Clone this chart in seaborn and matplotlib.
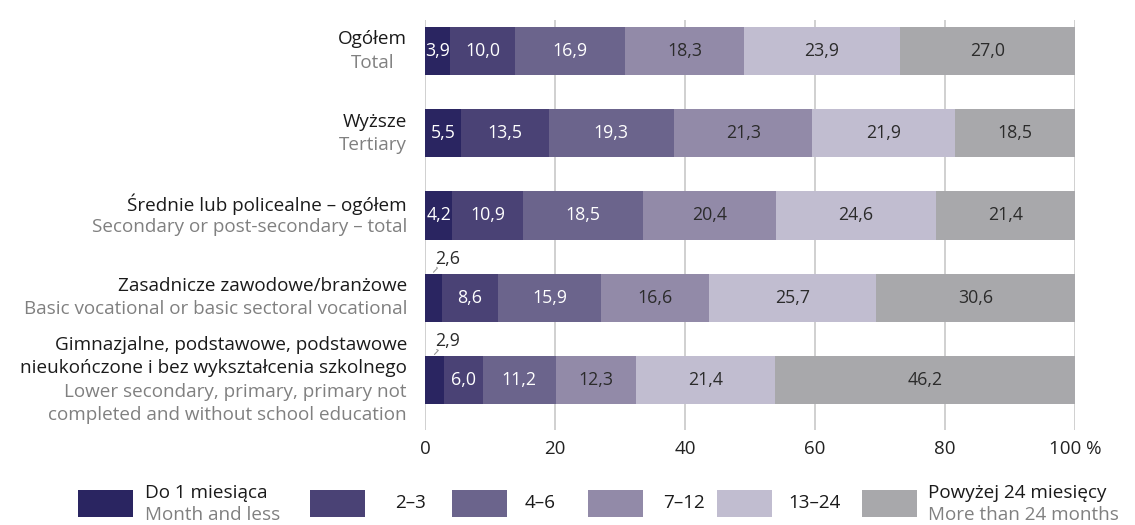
import numpy as np
import pandas as pd
import matplotlib
matplotlib.use("Agg")
import matplotlib.pyplot as plt
from matplotlib.patches import Rectangle
import seaborn as sns

# data
categories = ["Ogółem", "Wyższe", "Średnie lub policealne – ogółem",
              "Zasadnicze zawodowe/branżowe", "Gimnazjalne"]
row_labels = [
    (["Ogółem"], ["Total"]),
    (["Wyższe"], ["Tertiary"]),
    (["Średnie lub policealne – ogółem"], ["Secondary or post-secondary – total"]),
    (["Zasadnicze zawodowe/branżowe"], ["Basic vocational or basic sectoral vocational"]),
    (["Gimnazjalne, podstawowe, podstawowe", "nieukończone i bez wykształcenia szkolnego"],
     ["Lower secondary, primary, primary not", "completed and without school education"]),
]
series = ["Do 1 miesiąca", "2–3", "4–6", "7–12", "13–24", "Powyżej 24 miesięcy"]
series_en = ["Month and less", "", "", "", "", "More than 24 months"]
do1 = [3.9, 5.5, 4.2, 2.6, 2.9]
m2_3 = [10.0, 13.5, 10.9, 8.6, 6.0]
m4_6 = [16.9, 19.3, 18.5, 15.9, 11.2]
m7_12 = [18.3, 21.3, 20.4, 16.6, 12.3]
m13_24 = [23.9, 21.9, 24.6, 25.7, 21.4]
over24 = [27.0, 18.5, 21.4, 30.6, 46.2]
values = [do1, m2_3, m4_6, m7_12, m13_24, over24]
ticks = [0, 20, 40, 60, 80, 100]
tick_labels = ["0", "20", "40", "60", "80", "100 %"]

colors = ["#2a2561", "#4a4275", "#6b648c", "#928aa8", "#c1bdd0", "#a8a8ab"]
text_colors = ["white", "white", "white", "#2b2b2b", "#2b2b2b", "#2b2b2b"]
gray_txt = "#808080"

sns.set_style("white")
plt.rcParams["font.family"] = ["Open Sans", "DejaVu Sans"]

vals = np.array(values)
cum = np.cumsum(vals, axis=0)

fig = plt.figure(figsize=(11.35, 5.25), dpi=100)
ax = fig.add_axes([425 / 1135, 1 - 430 / 525, 650 / 1135, 410 / 525])

# stacked bars: draw cumulative totals from largest to smallest
for j in range(len(series) - 1, -1, -1):
    df = pd.DataFrame({"cat": categories, "val": cum[j]})
    sns.barplot(data=df, x="val", y="cat", order=categories, color=colors[j],
                orient="h", width=0.585, linewidth=0, saturation=1, ax=ax, zorder=3)

ax.set_xlim(0, 100)
ax.set_ylim(4 + 50 / 82.2, -31 / 82.2)
ax.set_xticks(ticks)
ax.set_xticklabels(tick_labels, fontsize=13.5, color="#222222")
ax.tick_params(axis="x", length=0, pad=7)
ax.set_yticks([])
ax.set_xlabel("")
ax.set_ylabel("")
for s in ax.spines.values():
    s.set_visible(False)
for t in ticks:
    ax.axvline(t, color="#c8c8c8", lw=1.2, zorder=0)

# value labels
for i in range(len(categories)):
    for j in range(len(series)):
        v = vals[j, i]
        mid = cum[j, i] - v / 2
        lab = f"{v:.1f}".replace(".", ",")
        if v < 3.5 and j == 0:
            ax.plot([mid, mid + 0.6, 1.8], [i - 0.31, i - 0.36, i - 0.37],
                    color="#999999", lw=0.8, zorder=4)
            ax.text(1.6, i - 0.47, lab, ha="left", va="center", fontsize=12.8,
                    color="#2b2b2b")
        else:
            ax.text(mid, i, lab, ha="center", va="center", fontsize=12.8,
                    color=text_colors[j], zorder=5)

# row labels
px = 82.2
lab_fs = 13.6
ytr = ax.get_yaxis_transform()
for i, (pl, en) in enumerate(row_labels):
    lines = [(t, "#1a1a1a") for t in pl] + [(t, gray_txt) for t in en]
    n = len(lines)
    for k, (t, c) in enumerate(lines):
        off = (k - (n - 1) / 2) * 23.3 / px
        ax.text(-18 / 650, i + off, t, ha="right", va="center", fontsize=lab_fs,
                color=c, transform=ytr)

# "Total" is centred under "Ogółem" in the original
for txt in list(ax.texts):
    if txt.get_text() == "Total":
        fig.canvas.draw()
        r = fig.canvas.get_renderer()
        ogo = [t for t in ax.texts if t.get_text() == "Ogółem"][0]
        bb = ogo.get_window_extent(r)
        cx = (bb.x0 + bb.x1) / 2
        x_ax = ax.transAxes.inverted().transform((cx, 0))[0]
        txt.set_x(x_ax)
        txt.set_ha("center")

# legend
leg_x = [78, 310, 452, 588, 717, 862]
txt_x = [145, 395, 525, 663, 788, 928]
leg_fs = 13.6
for j in range(len(series)):
    fig.add_artist(Rectangle((leg_x[j] / 1135, 1 - 517 / 525), 55 / 1135, 27 / 525,
                             transform=fig.transFigure, facecolor=colors[j],
                             edgecolor="none"))
    if series_en[j]:
        fig.text(txt_x[j] / 1135, 1 - 493 / 525, series[j], ha="left", va="center",
                 fontsize=leg_fs, color="#1a1a1a")
        fig.text(txt_x[j] / 1135, 1 - 515 / 525, series_en[j], ha="left", va="center",
                 fontsize=leg_fs, color=gray_txt)
    else:
        fig.text(txt_x[j] / 1135, 1 - 503 / 525, series[j], ha="left", va="center",
                 fontsize=leg_fs, color="#1a1a1a")

fig.savefig("out.png", dpi=100)
